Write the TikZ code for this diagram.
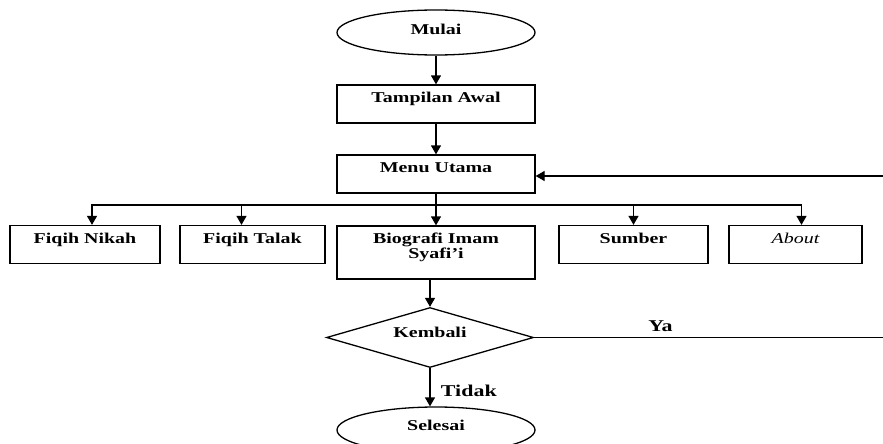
\documentclass[tikz,border=0pt]{standalone}
\usepackage{fontspec}
\setmainfont{Liberation Serif}[FakeStretch=1.33]
\usetikzlibrary{arrows.meta,positioning,shapes.geometric}

\begin{document}
\begin{tikzpicture}[x=1pt, y=-1pt, >={Triangle[length=9pt,width=10pt]},
  line width=1.3pt, font=\fontsize{15}{15}\selectfont\bfseries,
  proses/.style={draw, rectangle, minimum height=38pt, inner sep=0pt,
    text height=12pt, text depth=14.6pt},
  terminal/.style={draw, ellipse, minimum width=198pt, minimum height=45pt,
    inner sep=0pt, text height=12pt, text depth=7pt},
  keputusan/.style={draw, diamond, aspect=3.5, minimum width=207pt,
    minimum height=60pt, inner sep=0pt, text height=12pt, text depth=12pt},
  lbl/.style={font=\fontsize{16.5}{18}\selectfont\bfseries}]
  \useasboundingbox (0,0) rectangle (883,444);
  \node[terminal] (mulai) at (436,32.5) {Mulai};
  \node[proses, minimum width=198pt] (awal) at (436,104) {Tampilan Awal};
  \node[proses, minimum width=198pt] (menu) at (436,174) {Menu Utama};
  % pilihan menu
  \node[proses, minimum width=150pt] (nikah) at (85,244.5) {Fiqih Nikah};
  \node[proses, minimum width=145pt] (talak) at (252.5,244.5) {Fiqih Talak};
  \node[proses, minimum width=198pt, minimum height=53pt, align=center,
    text height=26pt, text depth=15pt] (bio) at (436,252.5)
    {Biografi Imam\\Syafi'i};
  \node[proses, minimum width=149pt] (sumber) at (633.5,244.5) {Sumber};
  \node[proses, minimum width=133pt] (about) at (795.5,244.5)
    {\mdseries\itshape About};
  \node[keputusan] (kembali) at (430,337.5) {Kembali};
  \node[terminal, minimum width=198pt, minimum height=46pt,
    text depth=12pt] (selesai) at (436,430) {Selesai};
  \coordinate (bus) at (436,205);
  \coordinate (atas) at (885,176);
  \draw[->] (mulai) -- (awal);
  \draw[->] (awal) -- (menu);
  \draw[->] (menu) -- (bio);
  \draw[->] (bus) -| ([xshift=7pt]nikah.north);
  \draw[->] (bus) -| ([xshift=-11pt]talak.north);
  \draw[->] (bus) -| (sumber);
  \draw[->] (bus) -| ([xshift=6pt]about.north);
  \draw[->] (bio.south -| kembali.north) -- (kembali);
  \draw[->] (kembali) -- node[lbl, right=7pt, pos=0.6] (tidak) {Tidak}
    (kembali.south |- selesai.north);
  \draw[->] (kembali.east) -- node[lbl, above=2pt, pos=0.36] (ya) {Ya}
    (kembali.east -| atas) -- (atas) -- (menu.east |- atas);
\end{tikzpicture}
\end{document}
